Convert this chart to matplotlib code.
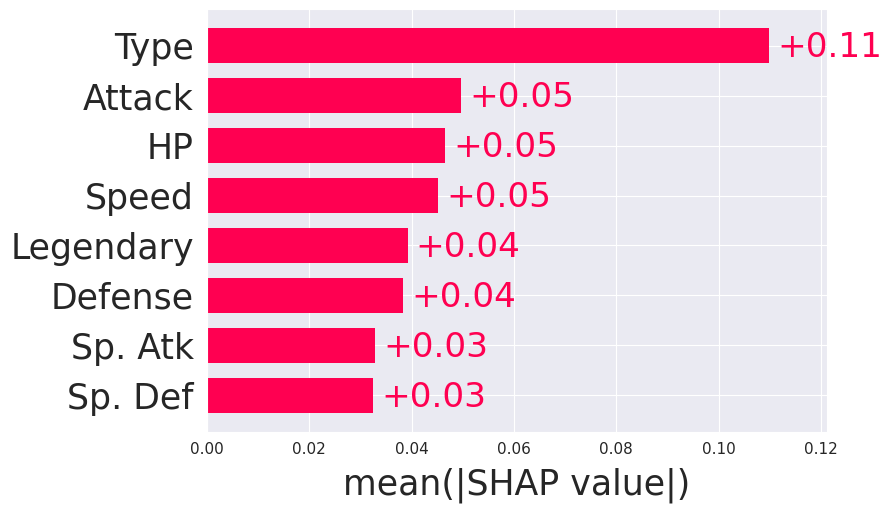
import matplotlib
matplotlib.use("Agg")
import matplotlib.pyplot as plt
import seaborn as sns
import numpy as np

sns.set_style("darkgrid")

### Data ###
features = ["Type", "Attack", "HP", "Speed", "Legendary", "Defense", "Sp. Atk", "Sp. Def"]
values   = [0.1098, 0.0497, 0.0466, 0.0452, 0.0392, 0.0383, 0.0329, 0.0325]
xticks   = [0.00, 0.02, 0.04, 0.06, 0.08, 0.10, 0.12]

bar_color = "#ff0051"

fig = plt.figure(figsize=(8.92, 5.12), dpi=100)
ax = fig.add_axes([207 / 892, 80 / 512, 620 / 892, 423 / 512])

y_pos = np.arange(len(features))[::-1]
ax.barh(y_pos, values, height=0.7, color=bar_color, linewidth=0, zorder=2)

for y, v in zip(y_pos, values):
    ax.annotate("+%.2f" % v, xy=(v, y), xytext=(6, -1.5), textcoords="offset points",
                ha="left", va="center", color=bar_color, fontsize=24.7,
                annotation_clip=False)

ax.set_yticks(y_pos)
ax.set_yticklabels(features, fontsize=25)
ax.set_xticks(xticks)
ax.set_xticklabels(["%.2f" % t for t in xticks], fontsize=11)
ax.set_xlim(0, 0.1212)
ax.set_xlabel("mean(|SHAP value|)", fontsize=25, labelpad=7)

ax.tick_params(axis="x", length=4, width=1.2, color="#333333", direction="out")
ax.tick_params(axis="y", length=0, pad=9.5)

fig.savefig("out.png", dpi=100)
